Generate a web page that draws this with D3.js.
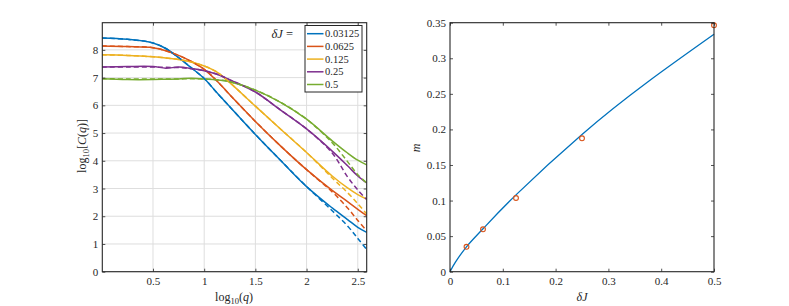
<!DOCTYPE html>
<html>
<head>
<meta charset="utf-8">
<script src="https://cdn.jsdelivr.net/npm/d3@7"></script>
<style>
  html, body { margin: 0; padding: 0; background: #fff; }
  svg { display: block; }
  text { font-family: "Liberation Serif", "DejaVu Serif", serif; fill: #262626; }
</style>
</head>
<body>
<svg id="chart" width="789" height="306"></svg>
<script>
// ---------- Left panel data: log10 C(q) vs log10 q ----------
const logQ = [0, 0.25, 0.5, 0.625, 0.75, 0.875, 1.0, 1.125, 1.25, 1.5, 1.75, 2.0, 2.25, 2.4, 2.5, 2.587];
const deltaJLabels = ["0.03125", "0.0625", "0.125", "0.25", "0.5"];
const seriesColors = ["#0072BD", "#D95319", "#EDB120", "#7E2F8E", "#77AC30"];

const simBlue   = [8.43, 8.38, 8.25, 8.05, 7.72, 7.35, 6.97, 6.45, 5.95, 4.95, 4.00, 3.07, 2.30, 1.88, 1.60, 1.42];
const simOrange = [8.14, 8.12, 8.08, 7.97, 7.80, 7.58, 7.30, 6.88, 6.38, 5.42, 4.52, 3.68, 2.93, 2.53, 2.25, 2.02];
const simYellow = [7.82, 7.80, 7.75, 7.71, 7.65, 7.56, 7.42, 7.20, 6.82, 5.97, 5.13, 4.30, 3.45, 3.02, 2.78, 2.62];
const simPurple = [7.38, 7.40, 7.40, 7.34, 7.38, 7.33, 7.25, 7.12, 6.92, 6.48, 5.82, 5.15, 4.35, 3.82, 3.45, 3.20];
const simGreen  = [6.96, 6.93, 6.93, 6.94, 6.95, 6.98, 6.95, 6.92, 6.85, 6.55, 6.10, 5.50, 4.72, 4.28, 4.02, 3.85];

const fitBlue   = [8.43, 8.38, 8.25, 8.05, 7.72, 7.35, 6.97, 6.45, 5.95, 4.95, 4.00, 3.07, 2.20, 1.65, 1.20, 0.80];
const fitOrange = [8.14, 8.12, 8.08, 7.97, 7.80, 7.58, 7.30, 6.88, 6.38, 5.42, 4.52, 3.68, 2.88, 2.30, 1.85, 1.48];
const fitYellow = [7.82, 7.80, 7.75, 7.71, 7.65, 7.56, 7.42, 7.20, 6.82, 5.97, 5.13, 4.30, 3.38, 2.85, 2.45, 2.08];
const fitPurple = [7.38, 7.38, 7.38, 7.37, 7.36, 7.32, 7.25, 7.12, 6.92, 6.48, 5.82, 5.15, 4.28, 3.42, 2.95, 2.60];
const fitGreen  = [6.96, 6.95, 6.95, 6.95, 6.95, 6.96, 6.95, 6.92, 6.85, 6.55, 6.10, 5.50, 4.65, 3.97, 3.50, 3.20];

const simSeries = [simBlue, simOrange, simYellow, simPurple, simGreen];
const fitSeries = [fitBlue, fitOrange, fitYellow, fitPurple, fitGreen];

const leftXTicks = [0.5, 1, 1.5, 2, 2.5];
const leftYTicks = [0, 1, 2, 3, 4, 5, 6, 7, 8];

// ---------- Right panel data: m vs deltaJ ----------
const dJ = [0.03125, 0.0625, 0.125, 0.25, 0.5];
const mVals = [0.035, 0.0596, 0.1036, 0.1875, 0.3464];
const fitDJ = [0, 0.01, 0.03125, 0.0625, 0.125, 0.25, 0.375, 0.5];
const fitM  = [0, 0.013, 0.035, 0.0603, 0.108, 0.193, 0.267, 0.3337];
const rightXTicks = [0, 0.1, 0.2, 0.3, 0.4, 0.5];
const rightYTicks = [0, 0.05, 0.1, 0.15, 0.2, 0.25, 0.3, 0.35];

// ---------- Layout ----------
const svg = d3.select("#chart");
const axisColor = "#262626";
const serif = '"Liberation Serif", "DejaVu Serif", serif';
const tickLen = 3;

const L = { left: 102.3, right: 366.7, top: 22.7, bottom: 271.7 };
const R = { left: 450, right: 714, top: 22.7, bottom: 271.7 };

const xL = d3.scaleLinear().domain([0.005, 2.587]).range([L.left, L.right]);
const yL = d3.scaleLinear().domain([0, 8.98]).range([L.bottom, L.top]);
const xR = d3.scaleLinear().domain([0, 0.5]).range([R.left, R.right]);
const yR = d3.scaleLinear().domain([0, 0.35]).range([R.bottom, R.top]);

function styleAxis(g, fontSize) {
  g.attr("font-family", serif);
  g.select(".domain").remove();
  g.selectAll(".tick line").attr("stroke", axisColor).attr("stroke-width", 0.8);
  g.selectAll(".tick text").style("font-size", fontSize + "px").style("font-family", serif).attr("fill", axisColor);
}

function drawGrid(box, xs, ys, xt, yt) {
  const g = svg.append("g");
  g.append("g").selectAll("line").data(xt).join("line")
    .attr("x1", d => xs(d)).attr("x2", d => xs(d))
    .attr("y1", box.top).attr("y2", box.bottom)
    .attr("stroke", "#dedede").attr("stroke-width", 1);
  g.append("g").selectAll("line").data(yt).join("line")
    .attr("y1", d => ys(d)).attr("y2", d => ys(d))
    .attr("x1", box.left).attr("x2", box.right)
    .attr("stroke", "#dedede").attr("stroke-width", 1);
}

function drawAxes(box, xs, ys, xt, yt, fmtX, fmtY) {
  const gb = svg.append("g").attr("transform", `translate(0,${box.bottom})`)
    .call(d3.axisBottom(xs).tickValues(xt).tickSize(-tickLen).tickSizeOuter(0).tickPadding(6).tickFormat(fmtX));
  styleAxis(gb, 11);
  const gt = svg.append("g").attr("transform", `translate(0,${box.top})`)
    .call(d3.axisTop(xs).tickValues(xt).tickSize(-tickLen).tickSizeOuter(0).tickFormat(""));
  styleAxis(gt, 11);
  const gl = svg.append("g").attr("transform", `translate(${box.left},0)`)
    .call(d3.axisLeft(ys).tickValues(yt).tickSize(-tickLen).tickSizeOuter(0).tickPadding(4).tickFormat(fmtY));
  styleAxis(gl, 11);
  const gr = svg.append("g").attr("transform", `translate(${box.right},0)`)
    .call(d3.axisRight(ys).tickValues(yt).tickSize(-tickLen).tickSizeOuter(0).tickFormat(""));
  styleAxis(gr, 11);
  svg.append("rect")
    .attr("x", box.left).attr("y", box.top)
    .attr("width", box.right - box.left).attr("height", box.bottom - box.top)
    .attr("fill", "none").attr("stroke", axisColor).attr("stroke-width", 1.1);
}

const fmtNum = d => String(+d.toFixed(2));

// ---------- Left panel ----------
drawGrid(L, xL, yL, leftXTicks, leftYTicks);

svg.append("clipPath").attr("id", "clipL").append("rect")
  .attr("x", L.left).attr("y", L.top)
  .attr("width", L.right - L.left).attr("height", L.bottom - L.top);

const lineL = d3.line()
  .x((d, i) => xL(logQ[i]))
  .y(d => yL(d))
  .curve(d3.curveCatmullRom.alpha(0.5));

const plotL = svg.append("g").attr("clip-path", "url(#clipL)");
simSeries.forEach((s, k) => {
  plotL.append("path").attr("d", lineL(s))
    .attr("fill", "none").attr("stroke", seriesColors[k]).attr("stroke-width", 1.5);
});
fitSeries.forEach((s, k) => {
  plotL.append("path").attr("d", lineL(s))
    .attr("fill", "none").attr("stroke", seriesColors[k]).attr("stroke-width", 1.5)
    .attr("stroke-dasharray", "5,3");
});

drawAxes(L, xL, yL, leftXTicks, leftYTicks, fmtNum, fmtNum);

// Legend
const leg = { x: 305, y: 25.5, w: 57, h: 66.5 };
svg.append("rect").attr("x", leg.x).attr("y", leg.y).attr("width", leg.w).attr("height", leg.h)
  .attr("fill", "#fff").attr("stroke", axisColor).attr("stroke-width", 1);
const legItems = svg.append("g").selectAll("g").data(deltaJLabels).join("g")
  .attr("transform", (d, i) => `translate(${leg.x}, ${leg.y + 8.2 + i * 12.7})`);
legItems.append("line").attr("x1", 2).attr("x2", 18.5).attr("y1", 0).attr("y2", 0)
  .attr("stroke", (d, i) => seriesColors[i]).attr("stroke-width", 1.5);
legItems.append("text").attr("x", 20).attr("y", 3.6).style("font-size", "10.5px").text(d => d);
const legTitle = svg.append("text").attr("x", 271.5).attr("y", 37.5).style("font-size", "12.5px");
legTitle.append("tspan").style("font-style", "italic").text("δJ");
legTitle.append("tspan").text(" =");

// Left labels
const xlabL = svg.append("text").attr("x", 234).attr("y", 300.5).attr("text-anchor", "middle").style("font-size", "12px");
xlabL.append("tspan").text("log");
xlabL.append("tspan").attr("dy", 3).style("font-size", "8.5px").text("10");
xlabL.append("tspan").attr("dy", -3).text("(");
xlabL.append("tspan").style("font-style", "italic").text("q");
xlabL.append("tspan").text(")");

const ylabL = svg.append("text").attr("transform", "translate(86,146) rotate(-90)")
  .attr("text-anchor", "middle").style("font-size", "12px");
ylabL.append("tspan").text("log");
ylabL.append("tspan").attr("dy", 3).style("font-size", "8.5px").text("10");
ylabL.append("tspan").attr("dy", -3).text("[");
ylabL.append("tspan").style("font-style", "italic").text("C");
ylabL.append("tspan").text("(");
ylabL.append("tspan").style("font-style", "italic").text("q");
ylabL.append("tspan").text(")]");

// ---------- Right panel ----------
const fitLine = d3.line().x((d, i) => xR(fitDJ[i])).y(d => yR(d)).curve(d3.curveNatural);
svg.append("path").attr("d", fitLine(fitM))
  .attr("fill", "none").attr("stroke", "#0072BD").attr("stroke-width", 1.3);

svg.append("g").selectAll("circle").data(mVals).join("circle")
  .attr("cx", (d, i) => xR(dJ[i])).attr("cy", d => yR(d)).attr("r", 2.4)
  .attr("fill", "none").attr("stroke", "#D95319").attr("stroke-width", 1.1);

drawAxes(R, xR, yR, rightXTicks, rightYTicks, fmtNum, fmtNum);

svg.append("text").attr("x", 582).attr("y", 300.5).attr("text-anchor", "middle")
  .style("font-size", "12px").style("font-style", "italic").text("δJ");
svg.append("text").attr("transform", "translate(420,148) rotate(-90)")
  .attr("text-anchor", "middle").style("font-size", "12px").style("font-style", "italic").text("m");
</script>
</body>
</html>
